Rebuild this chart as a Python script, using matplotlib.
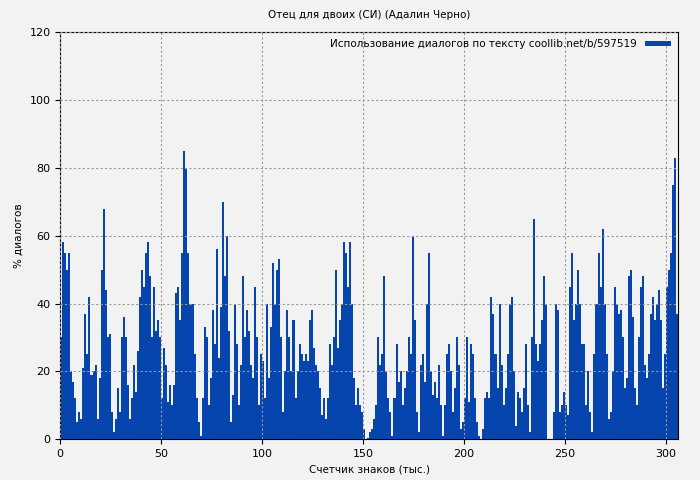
import matplotlib
matplotlib.use("Agg")
import matplotlib.pyplot as plt
import numpy as np

seg1 = [30,58,55,50,55,20,17,12,5,8,6,21,37,25,42,19,20,22,6,18,
        50,68,44,30,31,8,2,6,15,8,30,36,30,16,6,12,22,14,26,42,
        50,45,55,58,48,30,45,32,35,30,12,27,22,11,16,10,16,43,45,35,
        55,85,80,55,40,40,25,12,5,1,12,33,30,10,18,38,28]
seg2 = [56,24,39,70,48,60,32,5,13,40,28,10,22,48,30,38,32,22,18,45,
        30,10,25,23,12,40,18,33,52,40,50,53,30,8,20,38,30,20,35,12,
        20,28,25,23,25,23,35,38,27,22,20,15,7,12,6,12,28,22,30,50,
        27,35,40,58,55,45,58,40,18,10,15,10,8,3,0,0.5,2]
seg3 = [3,6,10,30,22,25,48,20,12,8,1,12,28,17,20,10,15,20,30,25,
        60,35,8,2,22,25,17,40,55,20,13,17,12,22,10,1,10,25,28,20,
        8,15,30,22,3,5,12,30,11,28,25,12,5,1,0,3,12,14,12,42,
        37,25,15,40,22,10,15,25,40,42,20,4,14,12,8,15]
seg4 = [28,10,2,30,65,28,23,28,35,48,40,0,0,0,8,40,38,8,10,14,
        10,7,45,55,35,40,50,40,28,28,10,20,8,2,25,40,55,45,62,40,
        25,6,8,20,45,40,37,38,30,15,18,48,50,36,15,10,30,45,48,22,
        18,25,37,42,35,40,44,35,15,25,45,50,55,75,83,37]
values = seg1 + seg2 + seg3 + seg4
positions = np.arange(len(values))

fig = plt.figure(figsize=(7, 4.8), dpi=100, facecolor="#f2f2f2")
ax = fig.add_axes([0.086, 0.085, 0.883, 0.848])
ax.set_facecolor("#f2f2f2")
ax.bar(positions, values, width=1.0, align="edge", color="#0645ad", linewidth=0,
       label="Использование диалогов по тексту coollib.net/b/597519")
ax.set_xlim(0, len(values))
ax.set_ylim(0, 120)
ax.set_xticks([0, 50, 100, 150, 200, 250, 300])
ax.set_yticks(range(0, 121, 20))
ax.grid(True, color="#999999", linestyle=(0, (2, 2)), linewidth=0.8)
ax.set_axisbelow(False)
for s in ax.spines.values():
    s.set_color("black")
ax.tick_params(labelsize=8)
ax.set_title("Отец для двоих (СИ) (Адалин Черно)", fontsize=7.5, pad=10)
ax.set_xlabel("Счетчик знаков (тыс.)", fontsize=7.5)
ax.set_ylabel("% диалогов", fontsize=7.5)
leg = ax.legend(loc="upper right", fontsize=7.5, frameon=False, markerfirst=False,
                handlelength=2.5, handleheight=0.4, borderaxespad=0.3)
fig.savefig("out.png", dpi=100, facecolor=fig.get_facecolor())
